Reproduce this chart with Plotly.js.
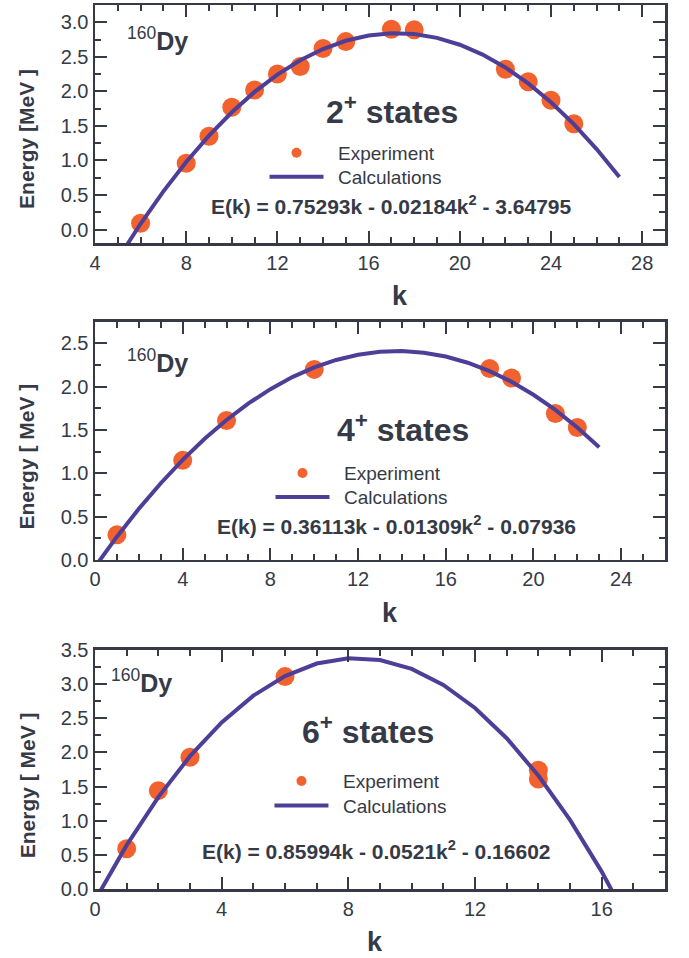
<!DOCTYPE html>
<html>
<head>
<meta charset="utf-8">
<script src="https://cdn.plot.ly/plotly-3.0.1.min.js"></script>
<style>html,body{margin:0;padding:0;background:#fff;}#chart{width:689px;height:958px;}</style>
</head>
<body>
<div id="chart"></div>
<script>
// ---- Data ----
// 2+ states
const kExp2 = [6, 8, 9, 10, 11, 12, 13, 14, 15, 17, 18, 22, 23, 24, 25];
const eExp2 = [0.09, 0.96, 1.35, 1.77, 2.02, 2.25, 2.36, 2.62, 2.72, 2.90, 2.89, 2.32, 2.14, 1.87, 1.53];
const kCalc2 = [5, 6, 7, 8, 9, 10, 11, 12, 13, 14, 15, 16, 17, 18, 19, 20, 21, 22, 23, 24, 25, 26, 27];
const eCalc2 = [-0.429, 0.083, 0.552, 0.978, 1.359, 1.697, 1.992, 2.242, 2.449, 2.612, 2.732, 2.808, 2.840, 2.829, 2.774, 2.675, 2.532, 2.346, 2.116, 1.843, 1.525, 1.164, 0.760];
// 4+ states
const kExp4 = [1, 4, 6, 10, 18, 19, 21, 22];
const eExp4 = [0.29, 1.15, 1.61, 2.20, 2.21, 2.10, 1.69, 1.53];
const kCalc4 = [0, 1, 2, 3, 4, 5, 6, 7, 8, 9, 10, 11, 12, 13, 14, 15, 16, 17, 18, 19, 20, 21, 22, 23];
const eCalc4 = [-0.079, 0.269, 0.591, 0.886, 1.156, 1.399, 1.616, 1.807, 1.972, 2.111, 2.223, 2.309, 2.369, 2.403, 2.411, 2.392, 2.348, 2.277, 2.180, 2.057, 1.907, 1.732, 1.530, 1.302];
// 6+ states
const kExp6 = [1, 2, 3, 6, 14, 14];
const eExp6 = [0.59, 1.44, 1.93, 3.11, 1.74, 1.61];
const kCalc6 = [0, 1, 2, 3, 4, 5, 6, 7, 8, 9, 10, 11, 12, 13, 14, 15, 16, 17];
const eCalc6 = [-0.166, 0.642, 1.346, 1.945, 2.440, 2.831, 3.118, 3.301, 3.379, 3.353, 3.223, 2.989, 2.651, 2.208, 1.662, 1.011, 0.255, -0.604];

const stateLabels = ['2<sup>+</sup> states', '4<sup>+</sup> states', '6<sup>+</sup> states'];
const equations = [
  'E(k) = 0.75293k - 0.02184k<sup>2</sup> - 3.64795',
  'E(k) = 0.36113k - 0.01309k<sup>2</sup> - 0.07936',
  'E(k) = 0.85994k - 0.0521k<sup>2</sup> - 0.16602'
];
const yTitles = ['Energy [MeV ]', 'Energy [ MeV ]', 'Energy [ MeV ]'];
const xTitle = 'k';
const nucleus = '<sup>160</sup><b>Dy</b>';
const expName = 'Experiment';
const calcName = 'Calculations';

// ---- Style ----
const ORANGE = '#f2622e';
const PURPLE = '#4e3e98';
const INK = '#363a46';
const FONT = 'Liberation Sans, Arial, Helvetica, sans-serif';
const GAP = '\u2002'; // small gap between legend symbol and its text

const panels = [
  {kE: kExp2, eE: eExp2, kC: kCalc2, eC: eCalc2, xs: '', legE: 'legend', legC: 'legend2'},
  {kE: kExp4, eE: eExp4, kC: kCalc4, eC: eCalc4, xs: '2', legE: 'legend3', legC: 'legend4'},
  {kE: kExp6, eE: eExp6, kC: kCalc6, eC: eCalc6, xs: '3', legE: 'legend5', legC: 'legend6'}
];

const traces = [];
panels.forEach(p => {
  traces.push({
    x: p.kE, y: p.eE, type: 'scatter', mode: 'markers', name: expName,
    xaxis: 'x' + p.xs, yaxis: 'y' + p.xs, showlegend: false,
    marker: {color: ORANGE, size: 19}
  });
  // legend entry for the experiment points (smaller symbol as in the reference)
  traces.push({
    x: [null], y: [null], type: 'scatter', mode: 'markers', name: GAP + expName,
    xaxis: 'x' + p.xs, yaxis: 'y' + p.xs, legend: p.legE,
    marker: {color: ORANGE, size: 10}
  });
  traces.push({
    x: p.kC, y: p.eC, type: 'scatter', mode: 'lines', name: GAP + calcName,
    xaxis: 'x' + p.xs, yaxis: 'y' + p.xs, legend: p.legC,
    line: {color: PURPLE, width: 4}
  });
});

function xax(range, anchor) {
  return {
    range: range, anchor: anchor, domain: [0, 1],
    tick0: 0, dtick: 4, showline: true, linewidth: 2.5, linecolor: INK, mirror: 'ticks',
    ticks: 'inside', ticklen: 12, tickwidth: 2, tickcolor: INK,
    showgrid: false, zeroline: false,
    tickfont: {family: FONT, size: 20, color: INK},
    minor: {dtick: 1, ticks: 'inside', ticklen: 6, tickwidth: 2, tickcolor: INK}
  };
}
function yax(range, domain, anchor) {
  return {
    range: range, domain: domain, anchor: anchor,
    tick0: 0, dtick: 0.5, tickformat: '.1f',
    showline: true, linewidth: 2.5, linecolor: INK, mirror: 'ticks',
    ticks: 'inside', ticklen: 12, tickwidth: 2, tickcolor: INK,
    showgrid: false, zeroline: false,
    tickfont: {family: FONT, size: 20, color: INK},
    minor: {dtick: 0.25, ticks: 'inside', ticklen: 6, tickwidth: 2, tickcolor: INK}
  };
}

function legendAt(x, y) {
  return {
    x: x, y: y, xanchor: 'left', yanchor: 'top', xref: 'paper', yref: 'paper',
    bgcolor: 'rgba(0,0,0,0)', borderwidth: 0, itemwidth: 54,
    font: {family: FONT, size: 19, color: INK}, traceorder: 'normal'
  };
}

const annotations = [];
const nucPos = [[0.0526, 0.8573], [0.0526, 0.8351], [0.0254, 0.8698]];
const statePos = [[0.521, 0.559], [0.540, 0.554], [0.479, 0.665]];
const eqPos = [[0.521, 0.161], [0.529, 0.147], [0.493, 0.162]];
const yTitlePos = [0.438, 0.434, 0.434];
const xTitlePx = [400, 390, 374.5];
const xTitleY = [296, 613, 942];
['', '2', '3'].forEach((s, i) => {
  const xd = 'x' + s + ' domain', yd = 'y' + s + ' domain';
  annotations.push({text: nucleus, xref: xd, yref: yd, x: nucPos[i][0], y: nucPos[i][1],
    xanchor: 'left', yanchor: 'middle', showarrow: false,
    font: {family: FONT, size: 25, color: INK}});
  annotations.push({text: '<b>' + stateLabels[i] + '</b>', xref: xd, yref: yd, x: statePos[i][0], y: statePos[i][1],
    xanchor: 'center', yanchor: 'middle', showarrow: false,
    font: {family: FONT, size: 32, color: INK}});
  annotations.push({text: '<b>' + equations[i] + '</b>', xref: xd, yref: yd, x: eqPos[i][0], y: eqPos[i][1],
    xanchor: 'center', yanchor: 'middle', showarrow: false,
    font: {family: FONT, size: 21, color: INK}});
  annotations.push({text: '<b>' + yTitles[i] + '</b>', xref: 'paper', yref: yd, x: (27 - 95) / 570, y: yTitlePos[i],
    xanchor: 'center', yanchor: 'middle', textangle: -90, showarrow: false,
    font: {family: FONT, size: 21, color: INK}});
  annotations.push({text: '<b>' + xTitle + '</b>', xref: 'paper', yref: 'paper',
    x: (xTitlePx[i] - 95) / 570, y: (889 - xTitleY[i]) / 884,
    xanchor: 'center', yanchor: 'middle', showarrow: false,
    font: {family: FONT, size: 27, color: INK}});
});

const layout = {
  width: 689, height: 958,
  margin: {l: 95, r: 24, t: 5, b: 69},
  paper_bgcolor: '#ffffff', plot_bgcolor: '#ffffff',
  font: {family: FONT, color: INK},
  showlegend: true,
  xaxis: xax([4, 29], 'y'),
  xaxis2: xax([0, 26], 'y2'),
  xaxis3: xax([0, 18], 'y3'),
  yaxis: yax([-0.2, 3.25], [0.7304, 1], 'x'),
  yaxis2: yax([0, 2.75], [0.3722, 0.6417], 'x2'),
  yaxis3: yax([0, 3.5], [0, 0.2704], 'x3'),
  legend: legendAt(0.2974, 0.8542),
  legend2: legendAt(0.2974, 0.8271),
  legend3: legendAt(0.3079, 0.4919),
  legend4: legendAt(0.3079, 0.4648),
  legend5: legendAt(0.3061, 0.1435),
  legend6: legendAt(0.3061, 0.1158),
  annotations: annotations
};

Plotly.newPlot('chart', traces, layout, {displayModeBar: false, staticPlot: true});
</script>
</body>
</html>
